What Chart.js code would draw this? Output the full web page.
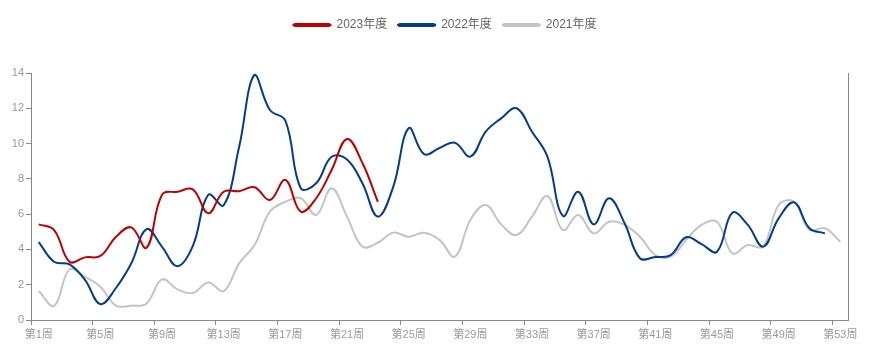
<!DOCTYPE html>
<html>
<head>
<meta charset="utf-8">
<script src="https://cdn.jsdelivr.net/npm/chart.js@4.4.0/dist/chart.umd.min.js"></script>
<style>
  html, body { margin: 0; padding: 0; background: #fff; }
  #wrap { width: 872px; height: 349px; position: relative; }
</style>
</head>
<body>
<div id="wrap"><canvas id="c" width="872" height="349"></canvas></div>
<script>
const weeks = [];
for (let i = 1; i <= 53; i++) weeks.push('第' + i + '周');

const seriesNames = ['2023年度', '2022年度', '2021年度'];

const y2023 = [5.42, 5.1, 3.3, 3.55, 3.63, 4.7, 5.25, 4.1, 7.1, 7.27, 7.4, 6.05, 7.27, 7.3, 7.52, 6.8, 7.94, 6.14, 6.9, 8.5, 10.26, 8.9, 6.7];

const y2022 = [4.42, 3.3, 3.15, 2.27, 0.9, 1.8, 3.2, 5.15, 4.15, 3.05, 4.2, 7.1, 6.5, 9.8, 13.9, 11.9, 11.3, 7.47, 7.75, 9.25, 9.1, 7.75, 5.86, 7.55, 10.87, 9.4, 9.75, 10.05, 9.26, 10.68, 11.43, 12.0, 10.67, 9.26, 5.9, 7.27, 5.42, 6.9, 5.5, 3.5, 3.57, 3.68, 4.69, 4.3, 3.87, 6.08, 5.39, 4.16, 5.76, 6.67, 5.2, 4.91];

const y2021 = [1.64, 0.8, 2.87, 2.45, 1.89, 0.82, 0.81, 0.94, 2.3, 1.74, 1.53, 2.12, 1.64, 3.21, 4.25, 6.14, 6.7, 6.9, 5.95, 7.47, 5.86, 4.16, 4.38, 4.95, 4.72, 4.95, 4.54, 3.59, 5.67, 6.52, 5.42, 4.82, 5.86, 7.03, 5.1, 5.95, 4.91, 5.57, 5.39, 4.72, 3.68, 3.59, 4.54, 5.39, 5.57, 3.78, 4.25, 4.16, 6.52, 6.7, 5.1, 5.2, 4.44];

const yTicks = [0, 2, 4, 6, 8, 10, 12, 14];

const colors = ['#C00000', '#033C8C', '#C4C4C4'];

Chart.defaults.font.family = "'Liberation Sans', 'Noto Sans CJK SC', sans-serif";

const legendSpacer = {
  id: 'legendSpacer',
  beforeLayout(chart) {
    const lg = chart.legend;
    if (lg && !lg._wrapped) {
      const f = lg.fit;
      lg.fit = function () { f.call(this); this.height = 65; };
      lg._wrapped = true;
    }
  },
  afterLayout(chart) {
    const lg = chart.legend;
    if (lg) { lg.left += 9; lg.right += 9; }
  }
};

const makeDs = (label, data, color) => ({
  label, data,
  borderColor: color, backgroundColor: color,
  borderWidth: 2, pointRadius: 0, pointHoverRadius: 0,
  tension: 0.4, fill: false
});

new Chart(document.getElementById('c'), {
  type: 'line',
  data: {
    labels: weeks,
    datasets: [
      makeDs(seriesNames[0], y2023, colors[0]),
      makeDs(seriesNames[1], y2022, colors[1]),
      makeDs(seriesNames[2], y2021, colors[2])
    ]
  },
  options: {
    responsive: false,
    animation: false,
    layout: { padding: { top: 8, left: 0, right: 0, bottom: 0 } },
    plugins: {
      legend: {
        position: 'top',
        labels: {
          boxWidth: 37, boxHeight: 2, padding: 11,
          color: '#666', font: { size: 12 },
          useBorderRadius: true, borderRadius: 2
        }
      },
      tooltip: { enabled: false }
    },
    scales: {
      x: {
        type: 'category',
        offset: true,
        afterFit(s) { s.height = 29; },
        grid: {
          offset: true, drawOnChartArea: false, drawTicks: true, tickLength: 5,
          color: (ctx) => (ctx.index !== undefined && ctx.index % 4 === 0) ? '#888' : 'rgba(0,0,0,0)'
        },
        border: { display: true, color: '#888', width: 1 },
        ticks: {
          autoSkip: false, maxRotation: 0, minRotation: 0, padding: 3,
          color: '#999', font: { size: 11 },
          callback: function (val, i) { return i % 4 === 0 ? this.getLabelForValue(val) : ''; }
        }
      },
      y: {
        position: 'left',
        min: 0, max: 14,
        afterFit(s) { s.width = 31; },
        afterBuildTicks(s) { s.ticks = yTicks.map(v => ({ value: v })); },
        grid: { drawOnChartArea: false, drawTicks: true, tickLength: 5, color: '#888' },
        border: { display: true, color: '#888', width: 1 },
        ticks: { padding: 2, color: '#999', font: { size: 11 } }
      },
      y2: {
        position: 'right',
        min: 0, max: 14,
        afterFit(s) { s.width = 24; },
        grid: { display: false, drawTicks: false },
        border: { display: true, color: '#888', width: 1 },
        ticks: { display: false }
      }
    }
  },
  plugins: [legendSpacer]
});
</script>
</body>
</html>
